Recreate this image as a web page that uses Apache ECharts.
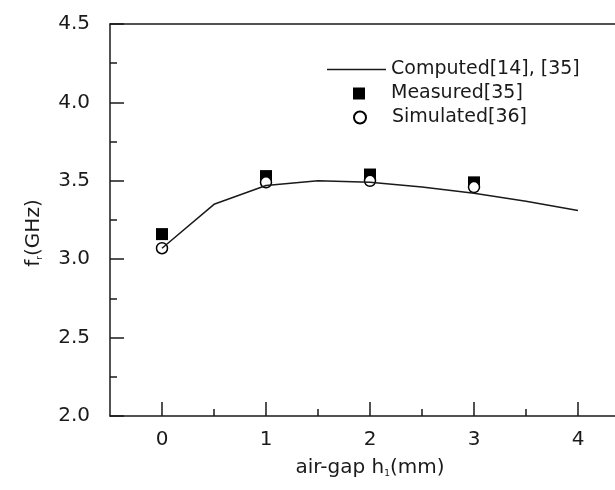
<!DOCTYPE html>
<html>
<head>
<meta charset="utf-8">
<script src="https://cdn.jsdelivr.net/npm/echarts@6/dist/echarts.min.js"></script>
<style>
  html, body { margin: 0; padding: 0; background: #fff; }
  #chart { width: 615px; height: 490px; }
</style>
</head>
<body>
<div id="chart"></div>
<script>
// data
var computedX = [0, 0.5, 1, 1.5, 2, 2.5, 3, 3.5, 4];
var computedY = [3.07, 3.35, 3.47, 3.50, 3.49, 3.46, 3.42, 3.37, 3.31];
var pointX = [0, 1, 2, 3];
var measuredY = [3.16, 3.53, 3.54, 3.49];
var simulatedY = [3.07, 3.49, 3.50, 3.46];
var names = ['Computed[14], [35]', 'Measured[35]', 'Simulated[36]'];
var xMajor = [0, 1, 2, 3, 4];
var xMinor = [0.5, 1.5, 2.5, 3.5];

function pairs(xs, ys) {
    var out = [];
    for (var i = 0; i < xs.length; i++) out.push([xs[i], ys[i]]);
    return out;
}

var ink = '#1a1a1a';
var font = 'DejaVu Sans, sans-serif';
var axisLine = { show: true, onZero: false, lineStyle: { color: ink, width: 1.5 } };
var legendText = { fontFamily: font, fontSize: 19, color: ink };

var option = {
    animation: false,
    backgroundColor: '#fff',
    grid: { left: 110, right: -15, top: 24, bottom: 74, outerBoundsMode: 'none', containLabel: false },
    legend: [{
        data: [{ name: names[0], icon: 'rect' }],
        left: 327, top: 60, padding: 0,
        itemWidth: 59, itemHeight: 1.5,
        symbolKeepAspect: false,
        textStyle: legendText
    }, {
        data: [names[1]],
        left: 353, top: 84, padding: 0,
        itemWidth: 12, itemHeight: 12,
        textStyle: Object.assign({ padding: [0, 0, 0, 21] }, legendText)
    }, {
        data: [names[2]],
        left: 353, top: 108, padding: 0,
        itemWidth: 12, itemHeight: 12,
        textStyle: Object.assign({ padding: [0, 0, 0, 21] }, legendText)
    }],
    xAxis: [{
        type: 'value',
        min: -0.5, max: 4.5,
        position: 'bottom',
        axisLine: axisLine,
        axisTick: { inside: true, length: 14, customValues: xMajor, lineStyle: { color: ink, width: 1.5 } },
        splitLine: { show: false },
        axisLabel: {
            margin: 14, customValues: xMajor,
            fontFamily: font, fontSize: 20, color: ink
        },
        name: '{a|air-gap h}{s|1}{a|(mm)}',
        nameLocation: 'middle',
        nameGap: 42,
        nameTextStyle: {
            rich: {
                a: { fontFamily: font, fontSize: 20, color: ink },
                s: { fontFamily: font, fontSize: 9, color: ink, verticalAlign: 'bottom', padding: [10, 0, 0, 0] }
            }
        }
    }, {
        type: 'value',
        min: -0.5, max: 4.5,
        position: 'top',
        axisLine: axisLine,
        axisTick: { show: false },
        axisLabel: { show: false },
        splitLine: { show: false }
    }, {
        // half-step ticks on the bottom axis
        type: 'value',
        min: -0.5, max: 4.5,
        position: 'bottom',
        axisLine: { show: false, onZero: false },
        axisTick: { inside: true, length: 7, customValues: xMinor, lineStyle: { color: ink, width: 1.5 } },
        axisLabel: { show: false },
        splitLine: { show: false }
    }],
    yAxis: [{
        type: 'value',
        min: 2.0, max: 4.5, interval: 0.5,
        position: 'left',
        axisLine: axisLine,
        axisTick: { inside: true, length: 14, lineStyle: { color: ink, width: 1.5 } },
        minorTick: { show: true, splitNumber: 2, length: 7, lineStyle: { color: ink, width: 1.5 } },
        splitLine: { show: false },
        axisLabel: {
            margin: 20,
            fontFamily: font, fontSize: 20, color: ink,
            formatter: function (v) { return v.toFixed(1); }
        },
        name: '{a|f}{s|r}{a|(GHz)}',
        nameLocation: 'middle',
        nameGap: 66,
        nameTextStyle: {
            padding: [0, 26, 0, 0],
            rich: {
                a: { fontFamily: font, fontSize: 20, color: ink },
                s: { fontFamily: font, fontSize: 9, color: ink, verticalAlign: 'bottom', padding: [10, 0, 0, 0] }
            }
        }
    }, {
        type: 'value',
        min: 2.0, max: 4.5,
        position: 'right',
        axisLine: axisLine,
        axisTick: { show: false },
        axisLabel: { show: false },
        splitLine: { show: false }
    }],
    series: [{
        name: names[0],
        type: 'line',
        data: pairs(computedX, computedY),
        symbol: 'none',
        lineStyle: { color: ink, width: 1.5 },
        itemStyle: { color: ink }
    }, {
        name: names[1],
        type: 'scatter',
        data: pairs(pointX, measuredY),
        symbol: 'rect',
        symbolSize: 12,
        itemStyle: { color: '#000', opacity: 1 }
    }, {
        name: names[2],
        type: 'scatter',
        data: pairs(pointX, simulatedY),
        symbol: 'circle',
        symbolSize: 11,
        itemStyle: { color: '#fff', borderColor: '#000', borderWidth: 1.5, opacity: 1 }
    }]
};

var myChart = echarts.init(document.getElementById('chart'));
myChart.setOption(option);
</script>
</body>
</html>
